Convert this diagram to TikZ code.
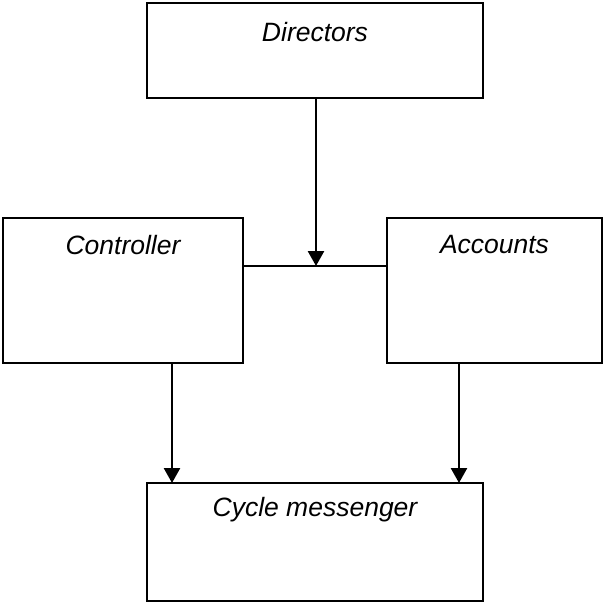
\documentclass[tikz,border=0pt]{standalone}
\usepackage{fontspec}
\setmainfont{Liberation Sans}
\usetikzlibrary{arrows.meta}
\tikzset{
  box/.style={draw=black, line width=2.4pt, inner sep=0pt, outer sep=0pt, rectangle},
  lab/.style={font=\fontsize{26.5}{30}\selectfont\itshape, inner sep=0pt},
  conn/.style={draw=black, line width=2.6pt},
  arr/.style={conn, -{Triangle[length=15pt,width=16pt]}}
}
\begin{document}
\begin{tikzpicture}[x=1pt,y=-1pt]
\useasboundingbox (0,0) rectangle (603,603);
\node[box, minimum width=336pt, minimum height=95pt] (dir) at (315,50.5) {};
\node[box, minimum width=240pt, minimum height=145pt] (ctrl) at (123,290.5) {};
\node[box, minimum width=215pt, minimum height=145pt] (acc) at (494.5,290.5) {};
\node[box, minimum width=336pt, minimum height=118pt] (cyc) at (315,542) {};
\node[lab] (dirt) at ([yshift=-29pt]dir.north) {Directors};
\node[lab] (ctrlt) at ([yshift=-27pt]ctrl.north) {Controller};
\node[lab] (acct) at ([yshift=-27pt]acc.north) {Accounts};
\node[lab] (cyct) at ([yshift=-27pt]cyc.north) {Cycle messenger};
\coordinate (j) at (316,266);
\coordinate (c1) at (172,0);
\coordinate (c2) at (459,0);
\draw[box] (ctrl.east |- j) -- (acc.west |- j);
\draw[arr] (dir.south -| j) -- (j);
\draw[arr] (ctrl.south -| c1) -- (cyc.north -| c1);
\draw[arr] (acc.south -| c2) -- (cyc.north -| c2);
\end{tikzpicture}
\end{document}
